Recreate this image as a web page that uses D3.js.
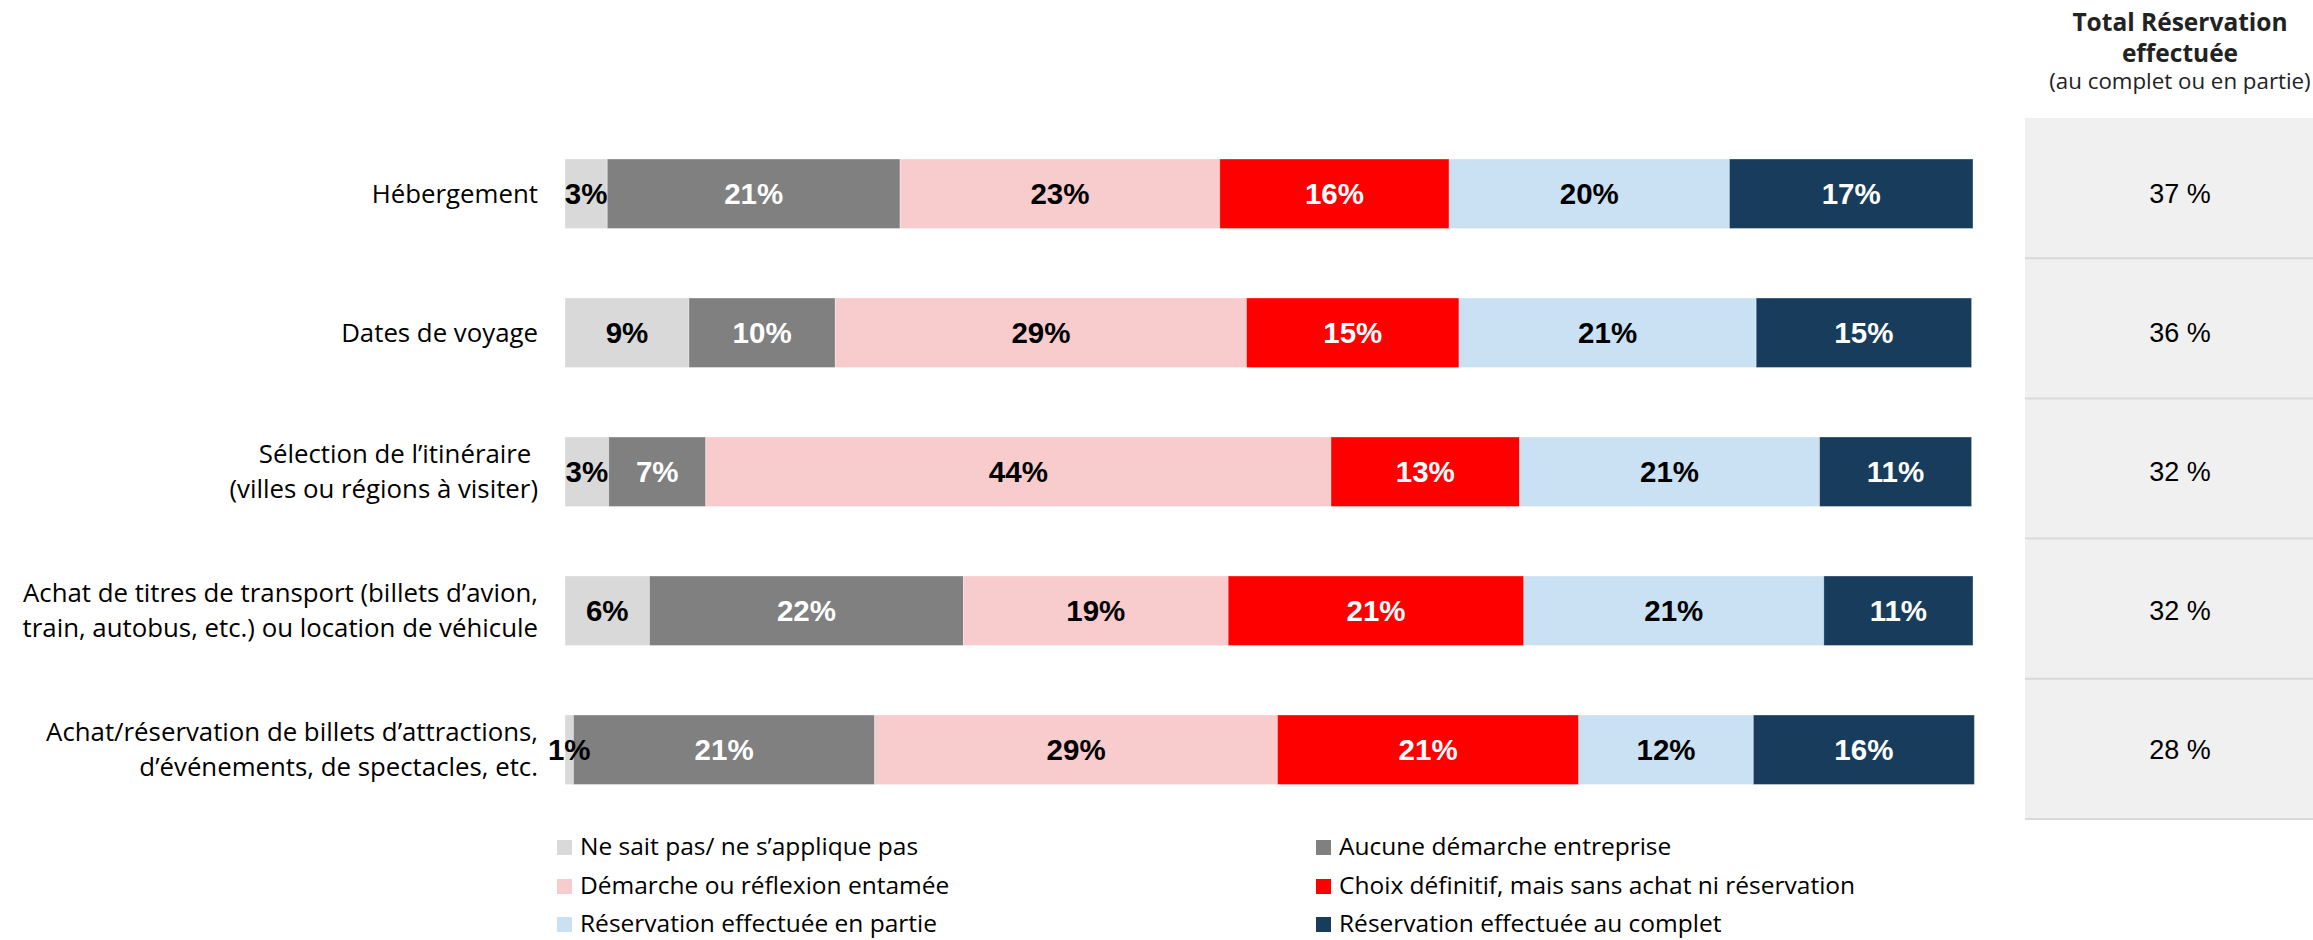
<!DOCTYPE html>
<html lang="fr">
<head>
<meta charset="utf-8">
<script src="https://cdn.jsdelivr.net/npm/d3@7"></script>
<style>
  html, body { margin: 0; padding: 0; background: #fff; }
  svg { display: block; }
</style>
</head>
<body>
<svg id="chart" width="2313" height="940"></svg>
<script>
// ---------- DATA ----------
const categories = [
  ["Hébergement"],
  ["Dates de voyage"],
  ["Sélection de l’itinéraire ", "(villes ou régions à visiter)"],
  ["Achat de titres de transport (billets d’avion,", "train, autobus, etc.) ou location de véhicule"],
  ["Achat/réservation de billets d’attractions,", "d’événements, de spectacles, etc."]
];
const seriesNames = [
  "Ne sait pas/ ne s’applique pas",
  "Aucune démarche entreprise",
  "Démarche ou réflexion entamée",
  "Choix définitif, mais sans achat ni réservation",
  "Réservation effectuée en partie",
  "Réservation effectuée au complet"
];
const seriesColors = ["#d9d9d9", "#808080", "#f8cbcd", "#ff0000", "#c9e1f3", "#173c5c"];
const labelColors  = ["#000", "#fff", "#000", "#fff", "#000", "#fff"];
const nsp        = [3.0, 8.8, 3.1, 6.0, 0.6];
const aucune     = [20.8, 10.4, 6.9, 22.3, 21.4];
const demarche   = [22.7, 29.2, 44.4, 18.8, 28.6];
const choix      = [16.3, 15.1, 13.4, 21.0, 21.4];
const partie     = [19.9, 21.1, 21.3, 21.3, 12.4];
const complet    = [17.3, 15.3, 10.8, 10.6, 15.7];
const seriesValues = [nsp, aucune, demarche, choix, partie, complet];
const totals = [37, 36, 32, 32, 28];
const tableTitle = ["Total Réservation", "effectuée"];
const tableSubtitle = "(au complet ou en partie)";

// ---------- BUILD ----------
const catKeys = categories.map(c => c.join(" "));
const rows = catKeys.map((k, i) => {
  const o = { cat: k };
  seriesNames.forEach((s, j) => o[s] = seriesValues[j][i]);
  return o;
});
const stack = d3.stack().keys(seriesNames)(rows);

const svg = d3.select("#chart");
const LABEL_FONT = "'Open Sans', 'Noto Sans', sans-serif";
const NUM_FONT = "'Liberation Sans', Arial, sans-serif";

const x = d3.scaleLinear().domain([0, 100]).range([565, 1973]);
const y = d3.scaleBand().domain(catKeys).range([124.25, 819.25]).paddingInner(0.5).paddingOuter(0.25);
const yRow = d3.scaleBand().domain(catKeys).range([118, 819]).padding(0);
const color = d3.scaleOrdinal().domain(seriesNames).range(seriesColors);
const txtColor = d3.scaleOrdinal().domain(seriesNames).range(labelColors);

// Right-side table panel
const tableX0 = 2025, tableX1 = 2313, tableCx = 2180;
const tbl = svg.append("g");
tbl.append("rect").attr("x", tableX0).attr("y", yRow.range()[0])
  .attr("width", tableX1 - tableX0).attr("height", yRow.range()[1] - yRow.range()[0])
  .attr("fill", "#f0f0f0");
tbl.selectAll("line.sep").data(catKeys).join("line")
  .attr("class", "sep")
  .attr("x1", tableX0).attr("x2", tableX1)
  .attr("y1", d => yRow(d) + yRow.bandwidth()).attr("y2", d => yRow(d) + yRow.bandwidth())
  .attr("stroke", "#d9d9d9").attr("stroke-width", 2);
tbl.selectAll("text.tot").data(catKeys).join("text")
  .attr("class", "tot")
  .attr("x", tableCx)
  .attr("y", d => y(d) + y.bandwidth() / 2)
  .attr("dy", "0.35em")
  .attr("text-anchor", "middle")
  .attr("font-family", NUM_FONT).attr("font-size", 27).attr("fill", "#000")
  .text((d, i) => totals[i] + " %");

// Table header
const hdr = svg.append("g").attr("font-family", LABEL_FONT).attr("text-anchor", "middle").attr("fill", "#222");
hdr.selectAll("text.t").data(tableTitle).join("text")
  .attr("class", "t")
  .attr("x", tableCx).attr("y", (d, i) => 31 + i * 31)
  .attr("font-size", 24.5).attr("font-weight", 700)
  .text(d => d);
hdr.append("text").attr("x", tableCx).attr("y", 89)
  .attr("font-size", 22.3).attr("fill", "#222")
  .text(tableSubtitle);

// Bars
const layers = svg.append("g").selectAll("g.layer").data(stack).join("g")
  .attr("class", "layer")
  .attr("fill", d => color(d.key));
layers.selectAll("rect").data(d => d).join("rect")
  .attr("x", d => x(d[0]))
  .attr("y", d => y(d.data.cat))
  .attr("width", d => x(d[1]) - x(d[0]))
  .attr("height", y.bandwidth())
  .attr("stroke", "#ffffff").attr("stroke-opacity", 0.35).attr("stroke-width", 1);

// Value labels
const labs = svg.append("g").selectAll("g.lab").data(stack).join("g")
  .attr("class", "lab")
  .attr("fill", d => txtColor(d.key));
labs.selectAll("text").data(d => d).join("text")
  .attr("x", d => (x(d[0]) + x(d[1])) / 2)
  .attr("y", d => y(d.data.cat) + y.bandwidth() / 2)
  .attr("dy", "0.36em")
  .attr("text-anchor", "middle")
  .attr("font-family", NUM_FONT).attr("font-weight", 700).attr("font-size", 29.5)
  .text(d => Math.round(d[1] - d[0]) + "%");

// Category labels (y axis)
const yAxis = d3.axisLeft(y).tickSize(0).tickPadding(0).tickFormat("");
const axG = svg.append("g").attr("transform", "translate(538,0)").call(yAxis);
axG.select(".domain").remove();
axG.selectAll(".tick").each(function (d, i) {
  const lines = categories[i];
  const lh = 35;
  const t = d3.select(this).append("text")
    .attr("fill", "#000")
    .attr("text-anchor", "end")
    .attr("font-family", LABEL_FONT)
    .attr("font-size", 25.8)
    .style("white-space", "pre");
  lines.forEach((ln, k) => {
    t.append("tspan").attr("x", 0)
      .attr("y", (k - (lines.length - 1) / 2) * lh)
      .attr("dy", "0.35em")
      .text(ln);
  });
});

// Legend
const legend = svg.append("g");
const legCols = [557, 1316];
const legRows = [855, 894, 932];
const li = legend.selectAll("g.li").data(seriesNames).join("g")
  .attr("class", "li")
  .attr("transform", (d, i) => `translate(${legCols[i % 2]},${legRows[Math.floor(i / 2)]})`);
li.append("rect").attr("x", 0).attr("y", -15).attr("width", 15).attr("height", 15)
  .attr("fill", d => color(d));
li.append("text").attr("x", 23).attr("y", 0)
  .attr("font-family", LABEL_FONT).attr("font-size", 24.5).attr("fill", "#000")
  .text(d => d);
</script>
</body>
</html>
